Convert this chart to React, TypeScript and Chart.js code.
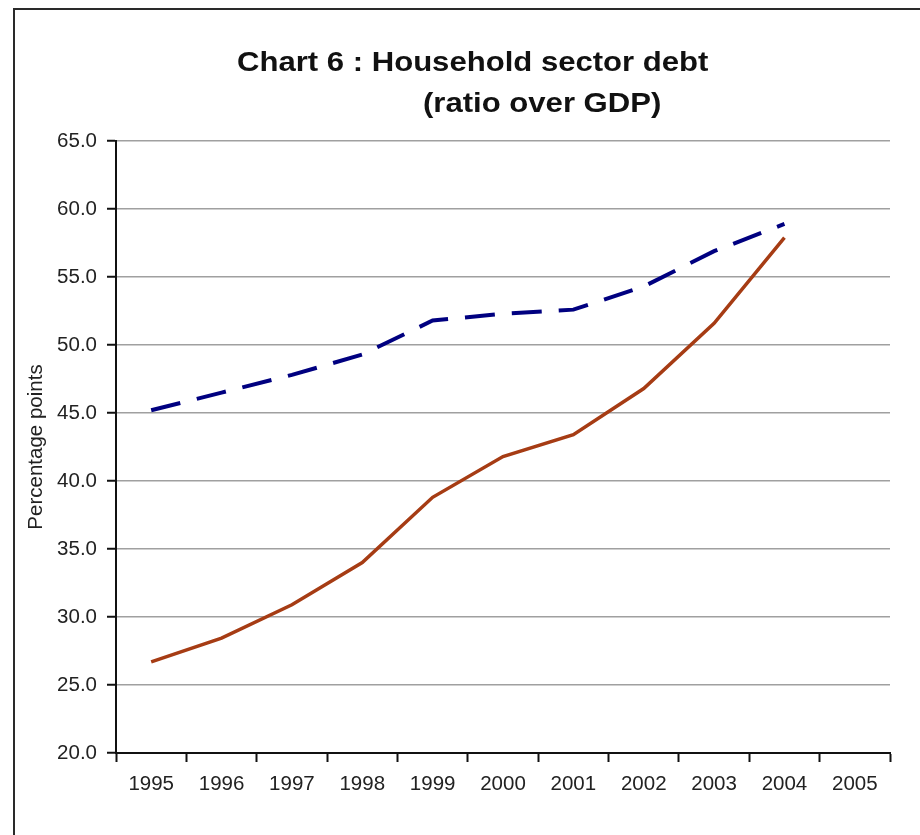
import React, { useEffect, useRef } from "react";
import { Chart, registerables } from "chart.js";

Chart.register(...registerables);

const years = ["1995", "1996", "1997", "1998", "1999", "2000", "2001", "2002", "2003", "2004", "2005"];
const dashedSeries = [45.2, 46.5, 47.8, 49.3, 51.8, 52.3, 52.6, 54.3, 56.9, 58.9, null];
const solidSeries = [26.7, 28.45, 30.9, 34.0, 38.8, 41.8, 43.4, 46.8, 51.6, 57.9, null];
const titleLine1 = "Chart 6 : Household sector debt";
const titleLine2 = "(ratio over GDP)";
const yAxisTitle = "Percentage points";

const FONT = '"Liberation Sans", Arial, sans-serif';

const framePlugin = {
  id: "frameAndTitle",
  afterDraw(chart: any) {
    const ctx = chart.ctx;
    ctx.save();
    ctx.strokeStyle = "#2a2a2a";
    ctx.lineWidth = 2;
    ctx.strokeRect(14, 9, 1000, 1000);
    ctx.fillStyle = "#111";
    ctx.font = `bold 28px ${FONT}`;
    ctx.textBaseline = "alphabetic";
    ctx.textAlign = "left";
    const sx = 1.11;
    ctx.scale(sx, 1);
    ctx.fillText(titleLine1, 237 / sx, 71);
    ctx.fillText(titleLine2, 423 / sx, 112);
    ctx.restore();
  },
};

export default function App() {
  const ref = useRef<HTMLCanvasElement>(null);
  useEffect(() => {
    if (!ref.current) return;
    const chart = new Chart(ref.current, {
      type: "line",
      data: {
        labels: years,
        datasets: [
          {
            label: "Dashed",
            data: dashedSeries,
            borderColor: "#000080",
            borderWidth: 4,
            borderDash: [30, 17],
            pointRadius: 0,
            tension: 0,
            fill: false,
          },
          {
            label: "Solid",
            data: solidSeries,
            borderColor: "#a63c14",
            borderWidth: 3.5,
            pointRadius: 0,
            tension: 0,
            fill: false,
          },
        ],
      },
      options: {
        responsive: false,
        animation: false,
        layout: { padding: { top: 141, left: 0, right: 30, bottom: 22 } },
        plugins: {
          legend: { display: false },
          title: { display: false },
          tooltip: { enabled: false },
        },
        scales: {
          x: {
            type: "category",
            offset: true,
            grid: {
              offset: true,
              drawOnChartArea: false,
              drawTicks: true,
              tickLength: 9,
              tickColor: "#111",
              tickWidth: 2,
            },
            border: { color: "#111", width: 2 },
            ticks: {
              color: "#222",
              font: { family: FONT, size: 20.5 },
              padding: 10,
              maxRotation: 0,
              autoSkip: false,
            },
            afterFit(scale: any) {
              scale.height = 60;
            },
          },
          y: {
            min: 20,
            max: 65,
            ticks: {
              stepSize: 5,
              color: "#222",
              font: { family: FONT, size: 20.5 },
              padding: 10,
              callback: (v: any) => Number(v).toFixed(1),
            },
            grid: {
              color: "#a0a0a0",
              lineWidth: 1.5,
              tickLength: 9,
              tickColor: "#111",
              tickWidth: 2,
            },
            border: { color: "#111", width: 2 },
            title: {
              display: true,
              text: yAxisTitle,
              color: "#222",
              font: { family: FONT, size: 20.5 },
              padding: { top: 24, bottom: 0 },
            },
            afterFit(scale: any) {
              scale.width = 116;
            },
          },
        },
      },
      plugins: [framePlugin],
    });
    return () => chart.destroy();
  }, []);
  return (
    <div style={{ position: "absolute", left: 0, top: 0, width: 920, height: 835, background: "#fff" }}>
      <canvas ref={ref} width={920} height={835} style={{ display: "block" }} />
    </div>
  );
}
